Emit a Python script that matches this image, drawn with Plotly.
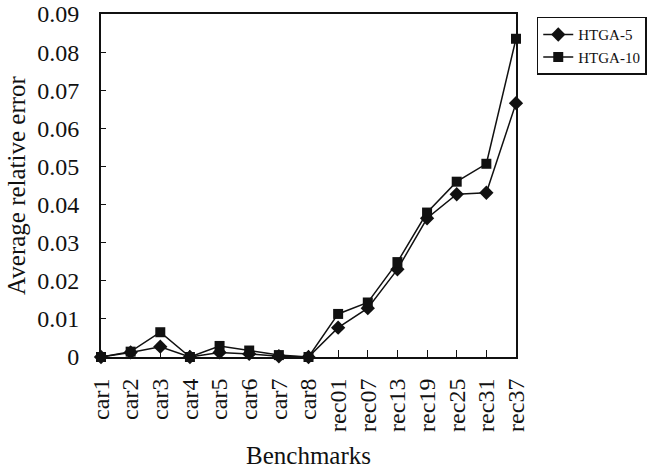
import plotly.graph_objects as go

categories = ["car1", "car2", "car3", "car4", "car5", "car6", "car7", "car8",
              "rec01", "rec07", "rec13", "rec19", "rec25", "rec31", "rec37"]
htga5 = [0.0, 0.0012, 0.0027, 0.0, 0.0012, 0.0008, 0.0002, 0.0,
         0.0077, 0.0128, 0.0230, 0.0364, 0.0427, 0.0431, 0.0666]
htga10 = [0.0, 0.0014, 0.0065, 0.0, 0.0029, 0.0017, 0.0005, 0.0,
          0.0113, 0.0143, 0.0249, 0.0379, 0.0460, 0.0507, 0.0835]
ytick_vals = [0, 0.01, 0.02, 0.03, 0.04, 0.05, 0.06, 0.07, 0.08, 0.09]
ytick_text = ["0", "0.01", "0.02", "0.03", "0.04", "0.05", "0.06", "0.07", "0.08", "0.09"]

FONT = "Times New Roman, Liberation Serif, Times, serif"
xidx = list(range(len(categories)))

fig = go.Figure()
fig.add_trace(go.Scatter(x=xidx, y=htga5, name="HTGA-5", mode="lines+markers",
                         line=dict(color="#111111", width=1.5),
                         marker=dict(symbol="diamond", size=11, color="#111111"),
                         cliponaxis=False))
fig.add_trace(go.Scatter(x=xidx, y=htga10, name="HTGA-10", mode="lines+markers",
                         line=dict(color="#111111", width=1.5),
                         marker=dict(symbol="square", size=10, color="#111111"),
                         cliponaxis=False))

fig.update_layout(
    width=649, height=473,
    margin=dict(l=101, r=133, t=14, b=116, autoexpand=False),
    paper_bgcolor="white", plot_bgcolor="white",
    font=dict(family=FONT, size=24, color="#111111"),
    showlegend=True,
    legend=dict(x=1.05, y=0.992, xanchor="left", yanchor="top",
                bordercolor="#111111", borderwidth=1.5,
                font=dict(family=FONT, size=15, color="#111111"),
                bgcolor="white", itemwidth=30, tracegroupgap=2),
    xaxis=dict(
        range=[0, len(categories) - 1], automargin=False,
        tickmode="array", tickvals=xidx, ticktext=categories,
        tickangle=-90, ticks="inside", ticklen=7, tickcolor="#111111",
        ticklabelstandoff=10, ticklabeloverflow="allow",
        showline=True, linecolor="#111111", linewidth=2, mirror=True,
        showgrid=False, zeroline=False,
        tickfont=dict(family=FONT, size=24),
        title=dict(text="Benchmarks", font=dict(family=FONT, size=25), standoff=16),
    ),
    yaxis=dict(
        range=[0, 0.09], automargin=False,
        tickmode="array", tickvals=ytick_vals, ticktext=ytick_text,
        ticks="inside", ticklen=5, tickcolor="#111111",
        ticklabelstandoff=15, ticklabeloverflow="allow",
        showline=True, linecolor="#111111", linewidth=2, mirror=True,
        showgrid=False, zeroline=False,
        tickfont=dict(family=FONT, size=24),
        title=dict(text="Average relative error", font=dict(family=FONT, size=25), standoff=4),
    ),
)

fig.write_html("out.html", config={"displayModeBar": False},
               post_script="document.body.style.margin='0';")
